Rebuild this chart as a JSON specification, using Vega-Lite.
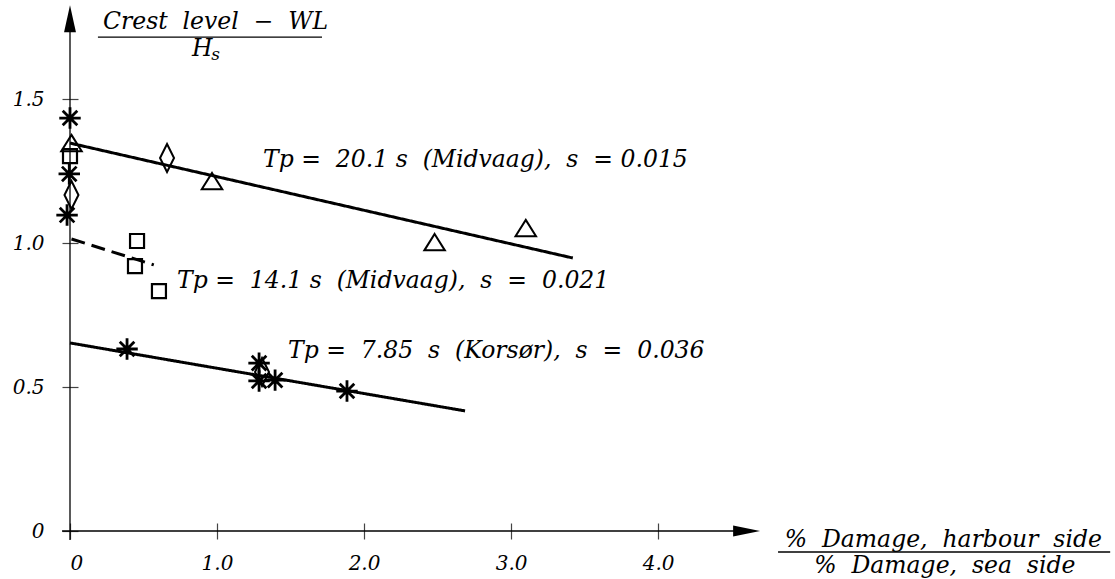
{
  "$schema": "https://vega.github.io/schema/vega-lite/v6.json",
  "autosize": {"type": "none"},
  "width": 691,
  "height": 527,
  "padding": {"left": 70, "top": 4, "right": 354, "bottom": 48},
  "background": "white",
  "config": {"view": {"stroke": null}},
  "datasets": {
    "points": [
      {"marker": "triangle", "x": 0.01, "y": 1.347},
      {"marker": "triangle", "x": 0.966, "y": 1.215},
      {"marker": "triangle", "x": 2.48, "y": 1.003},
      {"marker": "triangle", "x": 3.1, "y": 1.052},
      {"marker": "diamond", "x": 0.01, "y": 1.167},
      {"marker": "diamond", "x": 0.66, "y": 1.295},
      {"marker": "diamond", "x": 1.306, "y": 0.552},
      {"marker": "square", "x": 0.0, "y": 1.302},
      {"marker": "square", "x": 0.456, "y": 1.007},
      {"marker": "square", "x": 0.442, "y": 0.92},
      {"marker": "square", "x": 0.605, "y": 0.833},
      {"marker": "asterisk", "x": 0.0, "y": 1.434},
      {"marker": "asterisk", "x": -0.005, "y": 1.24},
      {"marker": "asterisk", "x": -0.02, "y": 1.097},
      {"marker": "asterisk", "x": 0.388, "y": 0.632},
      {"marker": "asterisk", "x": 1.286, "y": 0.583},
      {"marker": "asterisk", "x": 1.286, "y": 0.521},
      {"marker": "asterisk", "x": 1.395, "y": 0.524},
      {"marker": "asterisk", "x": 1.884, "y": 0.486}
    ],
    "fits": [
      {"series": "Tp 20.1 s", "x": 0.0, "y": 1.347},
      {"series": "Tp 20.1 s", "x": 3.42, "y": 0.948},
      {"series": "Tp 14.1 s", "x": 0.01, "y": 1.014},
      {"series": "Tp 14.1 s", "x": 0.57, "y": 0.924},
      {"series": "Tp 7.85 s", "x": 0.0, "y": 0.653},
      {"series": "Tp 7.85 s", "x": 2.687, "y": 0.417}
    ],
    "labels": [
      {"role": "note", "text": "Tp = \u00a020.1 s \u00a0(Midvaag), \u00a0s \u00a0= 0.015", "x": 1.313, "y": 1.29},
      {"role": "note", "text": "Tp = \u00a014.1 s \u00a0(Midvaag), \u00a0s \u00a0= \u00a00.021", "x": 0.728, "y": 0.868},
      {"role": "note", "text": "Tp = \u00a07.85 \u00a0s \u00a0(Korsør), \u00a0s \u00a0= \u00a00.036", "x": 1.483, "y": 0.624},
      {"role": "title", "text": "Crest \u00a0level \u00a0\u2212 \u00a0WL", "x": 0.99, "y": 1.768},
      {"role": "title", "text": "H", "x": 0.9, "y": 1.675},
      {"role": "sub", "text": "s", "x": 0.99, "y": 1.652},
      {"role": "title", "text": "% \u00a0Damage, \u00a0harbour \u00a0side", "x": 5.94, "y": -0.03},
      {"role": "title", "text": "% \u00a0Damage, \u00a0sea \u00a0side", "x": 5.95, "y": -0.122}
    ],
    "bars": [
      {"x": 0.19, "x2": 1.714, "y": 1.715},
      {"x": 4.816, "x2": 7.075, "y": -0.073}
    ],
    "axislines": [
      {"axis": "y", "x": 0, "x2": 0, "y": -0.031, "y2": 1.79},
      {"axis": "x", "x": -0.054, "x2": 4.66, "y": 0, "y2": 0}
    ],
    "arrows": [
      {"dir": "up", "x": 0, "y": 1.826},
      {"dir": "right", "x": 4.694, "y": 0}
    ]
  },
  "layer": [
    {
      "data": {"values": [{"x": 0, "y": 0}]},
      "mark": {"type": "point", "opacity": 0},
      "encoding": {
        "x": {"field": "x", "type": "quantitative",
          "scale": {"domain": [0, 4.7], "nice": false, "zero": false},
          "axis": {"values": [0, 1, 2, 3, 4], "domain": false, "grid": false, "title": null,
            "offset": -8, "tickSize": 16, "tickColor": "#444", "tickWidth": 1.2,
            "labelExpr": "datum.value == 0 ? '0' : format(datum.value, '.1f')",
            "labelFont": "DejaVu Serif", "labelFontStyle": "italic", "labelFontSize": 20,
            "labelColor": "black", "labelPadding": 14}},
        "y": {"field": "y", "type": "quantitative",
          "scale": {"domain": [0, 1.83], "nice": false, "zero": false},
          "axis": {"values": [0, 0.5, 1, 1.5], "domain": false, "grid": false, "title": null,
            "offset": -8, "tickSize": 16, "tickColor": "#444", "tickWidth": 1.2,
            "labelExpr": "datum.value == 0 ? '0' : format(datum.value, '.1f')",
            "labelFont": "DejaVu Serif", "labelFontStyle": "italic", "labelFontSize": 20,
            "labelColor": "black", "labelPadding": 18}}
      }
    },
    {
      "data": {"name": "axislines"},
      "mark": {"type": "rule", "color": "black", "strokeWidth": 1.3},
      "encoding": {
        "x": {"field": "x", "type": "quantitative"},
        "x2": {"field": "x2"},
        "y": {"field": "y", "type": "quantitative"},
        "y2": {"field": "y2"}
      }
    },
    {
      "data": {"name": "arrows"},
      "transform": [{"filter": "datum.dir == 'up'"}],
      "mark": {"type": "point", "filled": true, "color": "black", "opacity": 1, "size": 2916,
        "shape": "M0,0L0.22,1L-0.22,1Z", "strokeWidth": 0},
      "encoding": {
        "x": {"field": "x", "type": "quantitative"},
        "y": {"field": "y", "type": "quantitative"}
      }
    },
    {
      "data": {"name": "arrows"},
      "transform": [{"filter": "datum.dir == 'right'"}],
      "mark": {"type": "point", "filled": true, "color": "black", "opacity": 1, "size": 2916,
        "shape": "M0,0L-1,-0.2L-1,0.2Z", "strokeWidth": 0},
      "encoding": {
        "x": {"field": "x", "type": "quantitative"},
        "y": {"field": "y", "type": "quantitative"}
      }
    },
    {
      "data": {"name": "fits"},
      "mark": {"type": "line", "color": "black", "strokeWidth": 3},
      "encoding": {
        "x": {"field": "x", "type": "quantitative"},
        "y": {"field": "y", "type": "quantitative"},
        "detail": {"field": "series"},
        "strokeDash": {"field": "series", "type": "nominal", "legend": null,
          "scale": {"domain": ["Tp 20.1 s", "Tp 14.1 s", "Tp 7.85 s"], "range": [[1, 0], [14, 7], [1, 0]]}}
      }
    },
    {
      "data": {"name": "points"},
      "transform": [{"filter": "datum.marker == 'triangle'"}],
      "mark": {"type": "point", "filled": false, "color": "black", "opacity": 1, "strokeWidth": 2,
        "size": 420, "shape": "M0,-0.8L1,0.8L-1,0.8Z"},
      "encoding": {
        "x": {"field": "x", "type": "quantitative"},
        "y": {"field": "y", "type": "quantitative"}
      }
    },
    {
      "data": {"name": "points"},
      "transform": [{"filter": "datum.marker == 'diamond'"}],
      "mark": {"type": "point", "filled": false, "color": "black", "opacity": 1, "strokeWidth": 2,
        "size": 784, "shape": "M0,-1L0.5,0L0,1L-0.5,0Z"},
      "encoding": {
        "x": {"field": "x", "type": "quantitative"},
        "y": {"field": "y", "type": "quantitative"}
      }
    },
    {
      "data": {"name": "points"},
      "transform": [{"filter": "datum.marker == 'square'"}],
      "mark": {"type": "point", "filled": false, "color": "black", "opacity": 1, "strokeWidth": 2.2,
        "size": 196, "shape": "M-1,-1L1,-1L1,1L-1,1Z"},
      "encoding": {
        "x": {"field": "x", "type": "quantitative"},
        "y": {"field": "y", "type": "quantitative"}
      }
    },
    {
      "data": {"name": "points"},
      "transform": [{"filter": "datum.marker == 'asterisk'"}],
      "mark": {"type": "point", "filled": false, "color": "black", "opacity": 1, "strokeWidth": 2.8,
        "size": 460, "shape": "M-1,0L1,0M0,-1L0,1M-0.68,-0.68L0.68,0.68M-0.68,0.68L0.68,-0.68"},
      "encoding": {
        "x": {"field": "x", "type": "quantitative"},
        "y": {"field": "y", "type": "quantitative"}
      }
    },
    {
      "data": {"name": "bars"},
      "mark": {"type": "rule", "color": "black", "strokeWidth": 1.3},
      "encoding": {
        "x": {"field": "x", "type": "quantitative"},
        "x2": {"field": "x2"},
        "y": {"field": "y", "type": "quantitative"}
      }
    },
    {
      "data": {"name": "labels"},
      "transform": [{"filter": "datum.role == 'note'"}],
      "mark": {"type": "text", "align": "left", "baseline": "middle", "font": "DejaVu Serif",
        "fontStyle": "italic", "fontSize": 23.5, "color": "black"},
      "encoding": {
        "x": {"field": "x", "type": "quantitative"},
        "y": {"field": "y", "type": "quantitative"},
        "text": {"field": "text"}
      }
    },
    {
      "data": {"name": "labels"},
      "transform": [{"filter": "datum.role == 'title'"}],
      "mark": {"type": "text", "align": "center", "baseline": "middle", "font": "DejaVu Serif",
        "fontStyle": "italic", "fontSize": 23.5, "color": "black"},
      "encoding": {
        "x": {"field": "x", "type": "quantitative"},
        "y": {"field": "y", "type": "quantitative"},
        "text": {"field": "text"}
      }
    },
    {
      "data": {"name": "labels"},
      "transform": [{"filter": "datum.role == 'sub'"}],
      "mark": {"type": "text", "align": "center", "baseline": "middle", "font": "DejaVu Serif",
        "fontStyle": "italic", "fontSize": 17, "color": "black"},
      "encoding": {
        "x": {"field": "x", "type": "quantitative"},
        "y": {"field": "y", "type": "quantitative"},
        "text": {"field": "text"}
      }
    }
  ]
}
